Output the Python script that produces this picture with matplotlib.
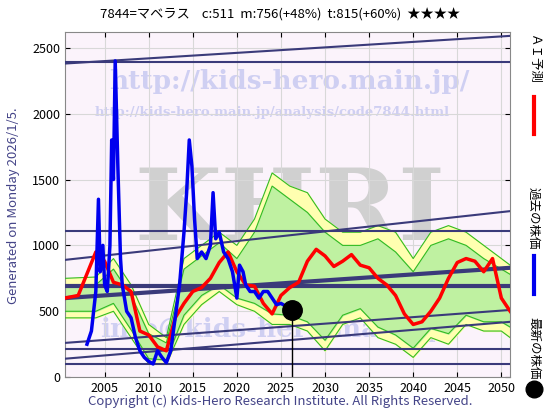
import numpy as np
import matplotlib.pyplot as plt

plt.rcParams['font.family'] = ['Noto Sans CJK JP', 'DejaVu Sans']

# past price (blue)
past_x = [2003, 2003.5, 2004, 2004.3, 2004.5, 2004.8, 2005, 2005.3, 2005.6, 2005.8, 2006, 2006.2, 2006.5,
          2006.8, 2007, 2007.5, 2008, 2008.5, 2009, 2009.5, 2010, 2010.5, 2011, 2011.5, 2012, 2012.5, 2013,
          2013.5, 2014, 2014.3, 2014.6, 2014.9, 2015.2, 2015.5, 2016, 2016.5, 2017, 2017.3, 2017.6, 2018,
          2018.5, 2019, 2019.5, 2020, 2020.3, 2020.7, 2021, 2021.5, 2022, 2022.5, 2023, 2023.5, 2024, 2024.5,
          2025, 2025.5]
past_y = [250, 350, 650, 1350, 800, 1000, 700, 650, 1000, 1800, 1500, 2400, 1600,
          900, 700, 500, 450, 300, 200, 150, 120, 100, 200, 150, 110, 200, 450,
          700, 1100, 1400, 1800, 1600, 1200, 900, 950, 900, 1000, 1400, 1050, 1100,
          950, 900, 800, 600, 850, 800, 700, 650, 650, 600, 650, 650, 600, 550,
          560, 540]

# AI forecast (red)
ai_x = [2000.5, 2002, 2004, 2005, 2006, 2007, 2008, 2009, 2010, 2011, 2012, 2013, 2014, 2015, 2016, 2017,
        2018, 2019, 2020, 2021, 2022, 2023, 2024, 2025, 2026, 2027, 2028, 2029, 2030, 2031, 2032, 2033,
        2034, 2035, 2036, 2037, 2038, 2039, 2040, 2041, 2042, 2043, 2044, 2045, 2046, 2047, 2048, 2049,
        2050, 2051]
ai_y = [600, 620, 950, 880, 720, 700, 650, 350, 320, 230, 200, 450, 560, 650, 680, 750,
        870, 950, 800, 700, 690, 560, 480, 620, 680, 720, 880, 970, 920, 840, 880, 930,
        850, 830, 750, 700, 620, 480, 400, 420, 500, 600, 750, 870, 900, 880, 800, 900,
        600, 500]

# forecast band (yellow / green)
band_x = [2000.5, 2004, 2006, 2008, 2010, 2012, 2014, 2016, 2018, 2020, 2022, 2024, 2026, 2028, 2030,
          2032, 2034, 2036, 2038, 2040, 2042, 2044, 2046, 2048, 2050, 2051]
band_hi = [750, 760, 900, 700, 400, 300, 900, 1000, 1100, 1000, 1200, 1550, 1450, 1400, 1200,
           1100, 1100, 1150, 1100, 900, 1100, 1150, 1100, 1000, 900, 850]
band_lo = [450, 450, 500, 300, 100, 100, 400, 550, 650, 550, 500, 400, 400, 350, 200,
           400, 450, 300, 250, 150, 300, 250, 400, 350, 350, 300]
inner_hi = [700, 700, 820, 620, 330, 260, 820, 920, 1020, 900, 1100, 1450, 1350, 1250, 1100,
            1000, 1000, 1050, 950, 800, 1000, 1050, 1000, 900, 820, 780]
inner_lo = [500, 500, 560, 360, 140, 130, 470, 620, 700, 600, 560, 480, 470, 420, 280,
            470, 520, 380, 320, 220, 370, 330, 470, 420, 420, 380]

# trend lines (start 2000.5, end 2051)
trend_lines = [(2380, 2590), (2390, 2390), (890, 1260), (1110, 1110), (600, 830), (690, 690),
               (260, 510), (140, 420), (210, 210), (100, 100)]
trend_widths = [1.5, 1.5, 1.5, 1.5, 3, 3, 1.5, 1.5, 1.5, 1.5]

latest_x, latest_y = 2026.2, 511

fig = plt.figure(figsize=(5.6, 4.2), dpi=100)
ax = fig.add_axes([0.116, 0.102, 0.795, 0.822])
ax.set_facecolor('#fbf3fb')

ax.text(2026, 1250, 'KHRI', fontsize=72, color='#d0d0d0', ha='center', va='center',
        family='DejaVu Serif', fontweight='bold', zorder=1)
ax.text(2026, 2240, 'http://kids-hero.main.jp/', fontsize=19, color='#cfcff2', ha='center', va='center',
        family='DejaVu Serif', fontweight='bold', zorder=1)
ax.text(2024, 2010, 'http://kids-hero.main.jp/analysis/code7844.html', fontsize=9.5, color='#cfcff2',
        ha='center', va='center', family='DejaVu Serif', fontweight='bold', zorder=1)
ax.text(2024, 360, 'info@kids-hero.main.jp', fontsize=19, color='#cfcff2', ha='center', va='center',
        family='DejaVu Serif', fontweight='bold', zorder=1)

ax.fill_between(band_x, band_lo, band_hi, color='#ffffb0', zorder=2)
ax.fill_between(band_x, inner_lo, inner_hi, color='#b8f0a0', alpha=0.9, zorder=2)
for arr in [band_hi, band_lo, inner_hi, inner_lo]:
    ax.plot(band_x, arr, color='#33bb22', lw=0.8, zorder=3)

for (a, b), w in zip(trend_lines, trend_widths):
    ax.plot([2000.5, 2051], [a, b], color='#3a3a7a', lw=w, zorder=4)

ax.plot(ai_x, ai_y, color='red', lw=2.5, zorder=5)
ax.plot(past_x, past_y, color='#0000ee', lw=2.5, zorder=6)
ax.plot([latest_x, latest_x], [0, latest_y], color='black', lw=1, zorder=6)
ax.plot(latest_x, latest_y, 'o', color='black', ms=14, zorder=7)

ax.set_xlim(2000.5, 2051)
ax.set_ylim(0, 2620)
ax.set_xticks(range(2005, 2051, 5))
ax.set_yticks(range(0, 2501, 500))
ax.grid(True, color='#d8d8d8', lw=0.8, zorder=0)
ax.tick_params(labelsize=9, direction='in', top=True, right=True)
for s in ax.spines.values():
    s.set_color('#888888')

fig.text(0.5, 0.955, '7844=マベラス    c:511  m:756(+48%)  t:815(+60%)  ★★★★', ha='center', fontsize=9.5)
fig.text(0.025, 0.51, 'Generated on Monday 2026/1/5.', rotation=90, ha='center', va='center',
         fontsize=9.5, color='#444488')
fig.text(0.5, 0.035, 'Copyright (c) Kids-Hero Research Institute. All Rights Reserved.', ha='center',
         fontsize=9.5, color='#444488')

# right-side legend
fig.text(0.953, 0.86, 'ＡＩ予測', rotation=270, ha='center', va='center', fontsize=9)
fig.add_artist(plt.Line2D([0.953, 0.953], [0.68, 0.77], color='red', lw=3))
fig.text(0.953, 0.48, '過去の株価', rotation=270, ha='center', va='center', fontsize=9)
fig.add_artist(plt.Line2D([0.953, 0.953], [0.30, 0.39], color='#0000ee', lw=3))
fig.text(0.953, 0.17, '最新の株価', rotation=270, ha='center', va='center', fontsize=9)
fig.add_artist(plt.Line2D([0.953], [0.075], marker='o', color='black', ms=12))

fig.savefig('out.png', dpi=100)
